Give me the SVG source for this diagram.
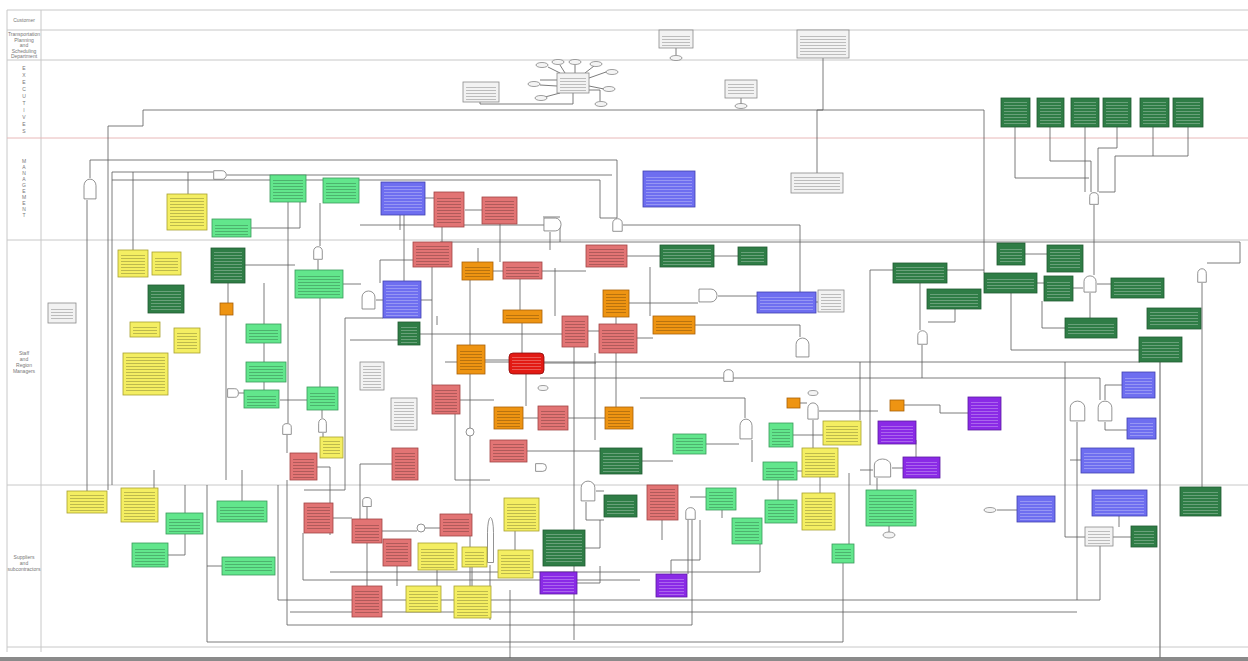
<svg xmlns="http://www.w3.org/2000/svg" xmlns:xlink="http://www.w3.org/1999/xlink" width="1248" height="661" viewBox="0 0 1248 661">
<style>
.lane{stroke:#c8c8c8;stroke-width:1;fill:none}
.lane.r{stroke:#e8b8b8}
.lbl{font-family:"Liberation Sans",Arial,sans-serif;font-size:5px;fill:#777;text-anchor:middle}
.g rect.o{fill:#f2f2f2;stroke:#8a8a8a;stroke-width:.8}
.dg rect.o{fill:#2f7d46;stroke:#1e5a30;stroke-width:.8}
.lg rect.o{fill:#62e68c;stroke:#3a9a5a;stroke-width:.8}
.y rect.o{fill:#f4ee62;stroke:#a8a030;stroke-width:.8}
.r rect.o{fill:#e27474;stroke:#a04444;stroke-width:.8}
.br rect.o{fill:#e21a14;stroke:#8a0a0a;stroke-width:.8}
.or rect.o{fill:#ee9412;stroke:#a86008;stroke-width:.8}
.b rect.o{fill:#6e6ef0;stroke:#4040b0;stroke-width:.8}
.p rect.o{fill:#8a2ae6;stroke:#5a1aa0;stroke-width:.8}
rect.t{fill:url(#tx)}
.dg rect.t,.b rect.t,.p rect.t,.br rect.t{fill:url(#txl)}
.gate{fill:#fff;stroke:#777;stroke-width:.8}
.ev{fill:#f4f4f4;stroke:#777;stroke-width:.7}
#connectors path{fill:none;stroke:#5a5a5a;stroke-width:.8}
</style>
<defs>
<pattern id="tx" patternUnits="userSpaceOnUse" width="4" height="3"><rect x="0" y="0" width="4" height=".8" fill="#000" fill-opacity=".28"/></pattern>
<pattern id="txl" patternUnits="userSpaceOnUse" width="4" height="3"><rect x="0" y="0" width="4" height=".8" fill="#fff" fill-opacity=".35"/></pattern>
<symbol id="gv" viewBox="0 0 14 20" preserveAspectRatio="none"><path d="M1,19 V7 A6,6 0 0 1 13,7 V19 Z" class="gate" vector-effect="non-scaling-stroke"/></symbol>
<symbol id="gh" viewBox="0 0 20 14" preserveAspectRatio="none"><path d="M1,1 H13 A6,6 0 0 1 13,13 H1 Z" class="gate" vector-effect="non-scaling-stroke"/></symbol>
</defs>
<rect width="1248" height="661" fill="#fff"/>

<!-- swimlanes -->
<g id="lanes">
<path class="lane" d="M7,10 H1248 M7,30 H1248 M7,60 H1248 M7,240 H1248 M7,485 H1248 M7,647 H1248 M7,10 V652 M41,10 V652"/>
<path class="lane r" d="M7,138 H1248"/>
<rect x="0" y="657" width="1248" height="4" fill="#8a8a8a"/>
<text class="lbl" x="24" y="22">Customer</text>
<text class="lbl" x="24" y="36"><tspan x="24">Transportation</tspan><tspan x="24" dy="5.5">Planning</tspan><tspan x="24" dy="5.5">and</tspan><tspan x="24" dy="5.5">Scheduling</tspan><tspan x="24" dy="5.5">Department</tspan></text>
<text class="lbl" x="24" y="70"><tspan x="24">E</tspan><tspan x="24" dy="7">X</tspan><tspan x="24" dy="7">E</tspan><tspan x="24" dy="7">C</tspan><tspan x="24" dy="7">U</tspan><tspan x="24" dy="7">T</tspan><tspan x="24" dy="7">I</tspan><tspan x="24" dy="7">V</tspan><tspan x="24" dy="7">E</tspan><tspan x="24" dy="7">S</tspan></text>
<text class="lbl" x="24" y="163"><tspan x="24">M</tspan><tspan x="24" dy="6">A</tspan><tspan x="24" dy="6">N</tspan><tspan x="24" dy="6">A</tspan><tspan x="24" dy="6">G</tspan><tspan x="24" dy="6">E</tspan><tspan x="24" dy="6">M</tspan><tspan x="24" dy="6">E</tspan><tspan x="24" dy="6">N</tspan><tspan x="24" dy="6">T</tspan></text>
<text class="lbl" x="24" y="355"><tspan x="24">Staff</tspan><tspan x="24" dy="6">and</tspan><tspan x="24" dy="6">Region</tspan><tspan x="24" dy="6">Managers</tspan></text>
<text class="lbl" x="24" y="559"><tspan x="24">Suppliers</tspan><tspan x="24" dy="6">and</tspan><tspan x="24" dy="6">subcontractors</tspan></text>
</g>

<!-- connectors -->
<g id="connectors">
<path d="M823,58 V110 H817 V173"/>
<path d="M676,48 V55"/>
<path d="M741,98 V104"/>
<path d="M480,102 V104 H573 V93"/>
<path d="M557,80 H540 M560,73 L548,67 M565,73 L560,65 M575,73 V65 M585,73 L594,66 M589,78 L606,72 M589,86 L604,89 M589,90 H600 V101 M560,93 L545,97 M557,86 L540,85"/>
<path d="M108,490 V126 H143 V110 H984 V273"/>
<path d="M90,178 V160 H617 V218"/>
<path d="M87,200 V491"/>
<path d="M112,485 V172 H213"/>
<path d="M227,175 H612"/>
<path d="M112,180 H600 V218 H617"/>
<path d="M133,172 V250"/>
<path d="M188,172 V194"/>
<path d="M1015,127 V178 H1089"/>
<path d="M1050,127 V161 H1091 V192"/>
<path d="M1085,127 V192"/>
<path d="M1117,127 V148 H1098 V192"/>
<path d="M1153,127 V156 H1115 V192 H1099"/>
<path d="M1188,127 V156 H1153"/>
<path d="M1094,205 V275"/>
<path d="M440,242 H1240 V263 H1207"/>
<path d="M1202,283 V487"/>
<path d="M1090,293 V318 M1073,288 H1083 M1097,284 H1111"/>
<path d="M1024,254 H1047 M1037,283 H1044 M947,270 H984 M920,283 V330 M955,309 V322 H928 M922,345 V378"/>
<path d="M1011,293 V350 H1139"/>
<path d="M1042,301 V328 H1065"/>
<path d="M870,270 H893 M870,270 V485"/>
<path d="M860,362 H1140 M860,362 V420"/>
<path d="M540,378 H1100 V400"/>
<path d="M445,362 H860"/>
<path d="M640,398 H745"/>
<path d="M1077,422 V600 M1105,422 V430 H1127 M1105,400 V385 H1122 M1070,460 H1081"/>
<path d="M1160,362 V658" style="stroke:#777;stroke-width:1.2"/>
<path d="M278,485 V600 H1100 V546"/>
<path d="M207,485 V642 H843 V545"/>
<path d="M287,480 V625 H692 V520"/>
<path d="M185,485 V513 M168,555 H185 V534 M154,470 V488 M242,470 V501 M207,566 H222"/>
<path d="M432,267 V385 M470,280 V428 M478,248 V262 M520,279 V310 M522,323 V353 M526,374 V406 M555,268 V316 M574,347 V640 M595,353 V440 M616,317 V407 M650,267 V316 M470,436 V612 M455,414 V480 H490 M442,248 V227 M500,224 V262 M404,215 V281 M320,203 V246 M318,260 V270 M320,298 V387 M322,410 V418 M323,433 V437 M288,202 V423 M287,435 V453 M264,283 V324 M264,343 V362 M264,382 V390 M228,283 V303 M226,315 V480 M239,393 H244 M280,400 H307"/>
<path d="M245,265 H295 M343,284 H361 M376,300 H383 M421,300 H432 M425,198 H434 M465,210 H482 M493,271 H503 M542,271 H586 M627,256 H660 M714,256 H738 M629,303 H698 M718,296 H757 M816,302 H818 M695,325 H800 V337 M637,338 H653 M588,331 H599 M544,363 H596 M485,360 H509 M460,400 H494 M523,418 H538 M568,418 H605 M527,451 H600 M642,461 H673 M706,444 H739 M793,435 H823 M797,471 H802 M752,440 V462 M745,398 V418 M800,403 H807 M819,411 H878 M904,405 H940 V413 H968 M916,440 V457 M892,468 H903 M860,470 H873 M877,478 V490 M813,420 V448 M820,477 V493 M889,526 V532 M997,510 H1017 M1119,516 V527 M1113,537 H1131 M1085,537 H1065 V362"/>
<path d="M586,502 V520 H604 M596,491 H604 M662,520 V540 M688,520 V574 M690,497 H706 M722,510 V518 M778,480 V500 M849,545 V473"/>
<path d="M333,518 H352 M382,531 H417 M425,528 H440 M367,507 V519 M367,543 V586 M397,566 V586 M437,570 V586 M472,567 V586 M515,531 V550 M490,565 V620 M585,548 H600 V520 M577,583 H600 V566 M671,574 V560 H700 V520 M317,467 H330 V535 M392,464 H360 V519 M510,590 V658"/>
<path d="M303,533 V580 H640 M330,572 H760 V544 M290,612 H1077 M380,260 H413 M380,260 V283"/>
<path d="M360,225 H560 M560,225 V242 M400,230 V182 M250,228 H300 V175"/>
<path d="M345,318 H383 M345,318 V490 H304 M350,340 H398 M420,334 H562 M437,316 V325"/>
<path d="M560,217 H543 M550,232 V250 M623,225 H800 V292"/>
</g>

<!-- gates and events -->
<g id="gates">
<use href="#gv" x="83" y="178" width="14" height="22"/>
<use href="#gv" x="313" y="246" width="10" height="14"/>
<use href="#gv" x="361" y="290" width="15" height="20"/>
<use href="#gv" x="612" y="218" width="11" height="14"/>
<use href="#gv" x="795" y="337" width="15" height="21"/>
<use href="#gv" x="723" y="369" width="11" height="13"/>
<use href="#gv" x="739" y="418" width="14" height="22"/>
<use href="#gv" x="807" y="402" width="12" height="18"/>
<use href="#gv" x="282" y="423" width="10" height="12"/>
<use href="#gv" x="318" y="418" width="9" height="15"/>
<use href="#gv" x="917" y="330" width="11" height="15"/>
<use href="#gv" x="1083" y="275" width="14" height="18"/>
<use href="#gv" x="1197" y="268" width="10" height="15"/>
<use href="#gv" x="1089" y="192" width="10" height="13"/>
<use href="#gv" x="1069" y="400" width="17" height="22"/>
<use href="#gv" x="1097" y="400" width="16" height="22"/>
<use href="#gv" x="873" y="458" width="19" height="20"/>
<use href="#gv" x="580" y="480" width="16" height="22"/>
<use href="#gv" x="685" y="507" width="11" height="13"/>
<use href="#gv" x="362" y="497" width="10" height="10"/>
<use href="#gv" x="487" y="515" width="7" height="50"/>
<use href="#gh" x="213" y="170" width="14" height="10"/>
<use href="#gh" x="543" y="217" width="19" height="15"/>
<use href="#gh" x="698" y="288" width="20" height="15"/>
<use href="#gh" x="227" y="388" width="12" height="10"/>
<use href="#gh" x="535" y="463" width="12" height="9"/>
<circle class="gate" cx="470" cy="432" r="4"/>
<circle class="gate" cx="421" cy="528" r="4"/>
<ellipse class="ev" cx="676" cy="58" rx="6" ry="2.5"/>
<ellipse class="ev" cx="542" cy="65" rx="6" ry="2.5"/>
<ellipse class="ev" cx="558" cy="62" rx="6" ry="2.5"/>
<ellipse class="ev" cx="575" cy="62" rx="6" ry="2.5"/>
<ellipse class="ev" cx="596" cy="64" rx="6" ry="2.5"/>
<ellipse class="ev" cx="612" cy="72" rx="6" ry="2.5"/>
<ellipse class="ev" cx="534" cy="84" rx="6" ry="2.5"/>
<ellipse class="ev" cx="541" cy="98" rx="6" ry="2.5"/>
<ellipse class="ev" cx="609" cy="89" rx="6" ry="2.5"/>
<ellipse class="ev" cx="601" cy="104" rx="6" ry="2.5"/>
<ellipse class="ev" cx="741" cy="106" rx="6" ry="2.5"/>
<ellipse class="ev" cx="543" cy="388" rx="5" ry="2.5"/>
<ellipse class="ev" cx="813" cy="393" rx="5" ry="2.5"/>
<ellipse class="ev" cx="889" cy="535" rx="6" ry="3"/>
<ellipse class="ev" cx="990" cy="510" rx="6" ry="2.5"/>
</g>

<!-- gray nodes -->
<g id="g1" class="g"><rect class="o" x="659" y="30" width="34" height="18"/><rect class="t" x="662" y="34" width="28" height="12"/></g>
<g id="g2" class="g"><rect class="o" x="797" y="30" width="52" height="28"/><rect class="t" x="800" y="34" width="46" height="22"/></g>
<g id="g3" class="g"><rect class="o" x="463" y="82" width="36" height="20"/><rect class="t" x="466" y="86" width="30" height="14"/></g>
<g id="g4" class="g"><rect class="o" x="557" y="73" width="32" height="20"/><rect class="t" x="560" y="77" width="26" height="14"/></g>
<g id="g5" class="g"><rect class="o" x="725" y="80" width="32" height="18"/><rect class="t" x="728" y="84" width="26" height="12"/></g>
<g id="g6" class="g"><rect class="o" x="791" y="173" width="52" height="20"/><rect class="t" x="794" y="177" width="46" height="14"/></g>
<g id="g7" class="g"><rect class="o" x="48" y="303" width="28" height="20"/><rect class="t" x="51" y="307" width="22" height="14"/></g>
<g id="g8" class="g"><rect class="o" x="360" y="362" width="24" height="28"/><rect class="t" x="363" y="366" width="18" height="22"/></g>
<g id="g9" class="g"><rect class="o" x="391" y="398" width="26" height="32"/><rect class="t" x="394" y="402" width="20" height="26"/></g>
<g id="g10" class="g"><rect class="o" x="818" y="290" width="26" height="22"/><rect class="t" x="821" y="294" width="20" height="16"/></g>
<g id="g11" class="g"><rect class="o" x="1085" y="527" width="28" height="19"/><rect class="t" x="1088" y="531" width="22" height="13"/></g>

<!-- dark green nodes -->
<g id="dg1" class="dg"><rect class="o" x="1001" y="98" width="29" height="29"/><rect class="t" x="1004" y="102" width="23" height="23"/></g>
<g id="dg2" class="dg"><rect class="o" x="1037" y="98" width="27" height="29"/><rect class="t" x="1040" y="102" width="21" height="23"/></g>
<g id="dg3" class="dg"><rect class="o" x="1071" y="98" width="28" height="29"/><rect class="t" x="1074" y="102" width="22" height="23"/></g>
<g id="dg4" class="dg"><rect class="o" x="1103" y="98" width="28" height="29"/><rect class="t" x="1106" y="102" width="22" height="23"/></g>
<g id="dg5" class="dg"><rect class="o" x="1140" y="98" width="29" height="29"/><rect class="t" x="1143" y="102" width="23" height="23"/></g>
<g id="dg6" class="dg"><rect class="o" x="1173" y="98" width="30" height="29"/><rect class="t" x="1176" y="102" width="24" height="23"/></g>
<g id="dg7" class="dg"><rect class="o" x="211" y="248" width="34" height="35"/><rect class="t" x="214" y="252" width="28" height="29"/></g>
<g id="dg8" class="dg"><rect class="o" x="148" y="285" width="36" height="28"/><rect class="t" x="151" y="289" width="30" height="22"/></g>
<g id="dg9" class="dg"><rect class="o" x="398" y="322" width="22" height="23"/><rect class="t" x="401" y="326" width="16" height="17"/></g>
<g id="dg10" class="dg"><rect class="o" x="660" y="245" width="54" height="22"/><rect class="t" x="663" y="249" width="48" height="16"/></g>
<g id="dg11" class="dg"><rect class="o" x="738" y="247" width="29" height="18"/><rect class="t" x="741" y="251" width="23" height="12"/></g>
<g id="dg12" class="dg"><rect class="o" x="893" y="263" width="54" height="20"/><rect class="t" x="896" y="267" width="48" height="14"/></g>
<g id="dg13" class="dg"><rect class="o" x="927" y="289" width="54" height="20"/><rect class="t" x="930" y="293" width="48" height="14"/></g>
<g id="dg14" class="dg"><rect class="o" x="997" y="243" width="28" height="22"/><rect class="t" x="1000" y="247" width="22" height="16"/></g>
<g id="dg15" class="dg"><rect class="o" x="1047" y="245" width="36" height="27"/><rect class="t" x="1050" y="249" width="30" height="21"/></g>
<g id="dg16" class="dg"><rect class="o" x="984" y="273" width="53" height="20"/><rect class="t" x="987" y="277" width="47" height="14"/></g>
<g id="dg17" class="dg"><rect class="o" x="1044" y="276" width="29" height="25"/><rect class="t" x="1047" y="280" width="23" height="19"/></g>
<g id="dg18" class="dg"><rect class="o" x="1111" y="278" width="53" height="20"/><rect class="t" x="1114" y="282" width="47" height="14"/></g>
<g id="dg19" class="dg"><rect class="o" x="1147" y="308" width="54" height="21"/><rect class="t" x="1150" y="312" width="48" height="15"/></g>
<g id="dg20" class="dg"><rect class="o" x="1065" y="318" width="52" height="20"/><rect class="t" x="1068" y="322" width="46" height="14"/></g>
<g id="dg21" class="dg"><rect class="o" x="1139" y="337" width="43" height="25"/><rect class="t" x="1142" y="341" width="37" height="19"/></g>
<g id="dg22" class="dg"><rect class="o" x="600" y="448" width="42" height="26"/><rect class="t" x="603" y="452" width="36" height="20"/></g>
<g id="dg23" class="dg"><rect class="o" x="543" y="530" width="42" height="36"/><rect class="t" x="546" y="534" width="36" height="30"/></g>
<g id="dg24" class="dg"><rect class="o" x="604" y="495" width="33" height="22"/><rect class="t" x="607" y="499" width="27" height="16"/></g>
<g id="dg25" class="dg"><rect class="o" x="1131" y="526" width="26" height="21"/><rect class="t" x="1134" y="530" width="20" height="15"/></g>
<g id="dg26" class="dg"><rect class="o" x="1180" y="487" width="41" height="29"/><rect class="t" x="1183" y="491" width="35" height="23"/></g>

<!-- light green nodes -->
<g id="lg1" class="lg"><rect class="o" x="212" y="219" width="39" height="18"/><rect class="t" x="215" y="223" width="33" height="12"/></g>
<g id="lg2" class="lg"><rect class="o" x="270" y="175" width="36" height="27"/><rect class="t" x="273" y="179" width="30" height="21"/></g>
<g id="lg3" class="lg"><rect class="o" x="323" y="178" width="36" height="25"/><rect class="t" x="326" y="182" width="30" height="19"/></g>
<g id="lg4" class="lg"><rect class="o" x="295" y="270" width="48" height="28"/><rect class="t" x="298" y="274" width="42" height="22"/></g>
<g id="lg5" class="lg"><rect class="o" x="246" y="324" width="35" height="19"/><rect class="t" x="249" y="328" width="29" height="13"/></g>
<g id="lg6" class="lg"><rect class="o" x="246" y="362" width="40" height="20"/><rect class="t" x="249" y="366" width="34" height="14"/></g>
<g id="lg7" class="lg"><rect class="o" x="244" y="390" width="35" height="18"/><rect class="t" x="247" y="394" width="29" height="12"/></g>
<g id="lg8" class="lg"><rect class="o" x="307" y="387" width="31" height="23"/><rect class="t" x="310" y="391" width="25" height="17"/></g>
<g id="lg9" class="lg"><rect class="o" x="673" y="434" width="33" height="20"/><rect class="t" x="676" y="438" width="27" height="14"/></g>
<g id="lg10" class="lg"><rect class="o" x="769" y="423" width="24" height="24"/><rect class="t" x="772" y="427" width="18" height="18"/></g>
<g id="lg11" class="lg"><rect class="o" x="763" y="462" width="34" height="18"/><rect class="t" x="766" y="466" width="28" height="12"/></g>
<g id="lg12" class="lg"><rect class="o" x="765" y="500" width="32" height="23"/><rect class="t" x="768" y="504" width="26" height="17"/></g>
<g id="lg13" class="lg"><rect class="o" x="706" y="488" width="30" height="22"/><rect class="t" x="709" y="492" width="24" height="16"/></g>
<g id="lg14" class="lg"><rect class="o" x="732" y="518" width="30" height="26"/><rect class="t" x="735" y="522" width="24" height="20"/></g>
<g id="lg15" class="lg"><rect class="o" x="166" y="513" width="37" height="21"/><rect class="t" x="169" y="517" width="31" height="15"/></g>
<g id="lg16" class="lg"><rect class="o" x="132" y="543" width="36" height="24"/><rect class="t" x="135" y="547" width="30" height="18"/></g>
<g id="lg17" class="lg"><rect class="o" x="217" y="501" width="50" height="21"/><rect class="t" x="220" y="505" width="44" height="15"/></g>
<g id="lg18" class="lg"><rect class="o" x="222" y="557" width="53" height="18"/><rect class="t" x="225" y="561" width="47" height="12"/></g>
<g id="lg19" class="lg"><rect class="o" x="866" y="490" width="50" height="36"/><rect class="t" x="869" y="494" width="44" height="30"/></g>
<g id="lg20" class="lg"><rect class="o" x="832" y="544" width="22" height="19"/><rect class="t" x="835" y="548" width="16" height="13"/></g>

<!-- yellow nodes -->
<g id="y1" class="y"><rect class="o" x="167" y="194" width="40" height="36"/><rect class="t" x="170" y="198" width="34" height="30"/></g>
<g id="y2" class="y"><rect class="o" x="118" y="250" width="30" height="27"/><rect class="t" x="121" y="254" width="24" height="21"/></g>
<g id="y3" class="y"><rect class="o" x="152" y="252" width="29" height="23"/><rect class="t" x="155" y="256" width="23" height="17"/></g>
<g id="y4" class="y"><rect class="o" x="130" y="322" width="30" height="15"/><rect class="t" x="133" y="326" width="24" height="9"/></g>
<g id="y5" class="y"><rect class="o" x="174" y="328" width="26" height="25"/><rect class="t" x="177" y="332" width="20" height="19"/></g>
<g id="y6" class="y"><rect class="o" x="123" y="353" width="45" height="42"/><rect class="t" x="126" y="357" width="39" height="36"/></g>
<g id="y7" class="y"><rect class="o" x="320" y="437" width="23" height="21"/><rect class="t" x="323" y="441" width="17" height="15"/></g>
<g id="y8" class="y"><rect class="o" x="67" y="491" width="40" height="22"/><rect class="t" x="70" y="495" width="34" height="16"/></g>
<g id="y9" class="y"><rect class="o" x="121" y="488" width="37" height="34"/><rect class="t" x="124" y="492" width="31" height="28"/></g>
<g id="y10" class="y"><rect class="o" x="823" y="421" width="38" height="24"/><rect class="t" x="826" y="425" width="32" height="18"/></g>
<g id="y11" class="y"><rect class="o" x="802" y="448" width="36" height="29"/><rect class="t" x="805" y="452" width="30" height="23"/></g>
<g id="y12" class="y"><rect class="o" x="802" y="493" width="33" height="37"/><rect class="t" x="805" y="497" width="27" height="31"/></g>
<g id="y13" class="y"><rect class="o" x="504" y="498" width="35" height="33"/><rect class="t" x="507" y="502" width="29" height="27"/></g>
<g id="y14" class="y"><rect class="o" x="418" y="543" width="39" height="27"/><rect class="t" x="421" y="547" width="33" height="21"/></g>
<g id="y15" class="y"><rect class="o" x="462" y="547" width="25" height="20"/><rect class="t" x="465" y="551" width="19" height="14"/></g>
<g id="y16" class="y"><rect class="o" x="498" y="550" width="35" height="28"/><rect class="t" x="501" y="554" width="29" height="22"/></g>
<g id="y17" class="y"><rect class="o" x="406" y="586" width="35" height="26"/><rect class="t" x="409" y="590" width="29" height="20"/></g>
<g id="y18" class="y"><rect class="o" x="454" y="586" width="37" height="32"/><rect class="t" x="457" y="590" width="31" height="26"/></g>

<!-- red nodes -->
<g id="r1" class="r"><rect class="o" x="434" y="192" width="30" height="35"/><rect class="t" x="437" y="196" width="24" height="29"/></g>
<g id="r2" class="r"><rect class="o" x="482" y="197" width="35" height="27"/><rect class="t" x="485" y="201" width="29" height="21"/></g>
<g id="r3" class="r"><rect class="o" x="413" y="242" width="39" height="25"/><rect class="t" x="416" y="246" width="33" height="19"/></g>
<g id="r4" class="r"><rect class="o" x="503" y="262" width="39" height="17"/><rect class="t" x="506" y="266" width="33" height="11"/></g>
<g id="r5" class="r"><rect class="o" x="586" y="245" width="41" height="22"/><rect class="t" x="589" y="249" width="35" height="16"/></g>
<g id="r6" class="r"><rect class="o" x="562" y="316" width="26" height="31"/><rect class="t" x="565" y="320" width="20" height="25"/></g>
<g id="r7" class="r"><rect class="o" x="599" y="324" width="38" height="29"/><rect class="t" x="602" y="328" width="32" height="23"/></g>
<g id="r8" class="r"><rect class="o" x="432" y="385" width="28" height="29"/><rect class="t" x="435" y="389" width="22" height="23"/></g>
<g id="r9" class="r"><rect class="o" x="538" y="406" width="30" height="24"/><rect class="t" x="541" y="410" width="24" height="18"/></g>
<g id="r10" class="r"><rect class="o" x="490" y="440" width="37" height="22"/><rect class="t" x="493" y="444" width="31" height="16"/></g>
<g id="r11" class="r"><rect class="o" x="290" y="453" width="27" height="27"/><rect class="t" x="293" y="457" width="21" height="21"/></g>
<g id="r12" class="r"><rect class="o" x="392" y="448" width="26" height="32"/><rect class="t" x="395" y="452" width="20" height="26"/></g>
<g id="r13" class="r"><rect class="o" x="304" y="503" width="29" height="30"/><rect class="t" x="307" y="507" width="23" height="24"/></g>
<g id="r14" class="r"><rect class="o" x="352" y="519" width="30" height="24"/><rect class="t" x="355" y="523" width="24" height="18"/></g>
<g id="r15" class="r"><rect class="o" x="383" y="539" width="28" height="27"/><rect class="t" x="386" y="543" width="22" height="21"/></g>
<g id="r16" class="r"><rect class="o" x="352" y="586" width="30" height="31"/><rect class="t" x="355" y="590" width="24" height="25"/></g>
<g id="r17" class="r"><rect class="o" x="440" y="514" width="32" height="22"/><rect class="t" x="443" y="518" width="26" height="16"/></g>
<g id="r18" class="r"><rect class="o" x="647" y="485" width="31" height="35"/><rect class="t" x="650" y="489" width="25" height="29"/></g>
<g id="br1" class="br"><rect class="o" x="509" y="353" width="35" height="21" rx="4"/><rect class="t" x="512" y="357" width="29" height="15"/></g>

<!-- orange nodes -->
<g id="o1" class="or"><rect class="o" x="462" y="262" width="31" height="18"/><rect class="t" x="465" y="266" width="25" height="12"/></g>
<g id="o2" class="or"><rect class="o" x="603" y="290" width="26" height="27"/><rect class="t" x="606" y="294" width="20" height="21"/></g>
<g id="o3" class="or"><rect class="o" x="503" y="310" width="39" height="13"/><rect class="t" x="506" y="313" width="33" height="8"/></g>
<g id="o4" class="or"><rect class="o" x="653" y="316" width="42" height="18"/><rect class="t" x="656" y="320" width="36" height="12"/></g>
<g id="o5" class="or"><rect class="o" x="457" y="345" width="28" height="29"/><rect class="t" x="460" y="349" width="22" height="23"/></g>
<g id="o6" class="or"><rect class="o" x="494" y="407" width="29" height="22"/><rect class="t" x="497" y="411" width="23" height="16"/></g>
<g id="o7" class="or"><rect class="o" x="605" y="407" width="28" height="22"/><rect class="t" x="608" y="411" width="22" height="16"/></g>
<g id="o8" class="or"><rect class="o" x="220" y="303" width="13" height="12"/></g>
<g id="o9" class="or"><rect class="o" x="787" y="398" width="13" height="10"/></g>
<g id="o10" class="or"><rect class="o" x="890" y="400" width="14" height="11"/></g>

<!-- blue nodes -->
<g id="b1" class="b"><rect class="o" x="381" y="182" width="44" height="33"/><rect class="t" x="384" y="186" width="38" height="27"/></g>
<g id="b2" class="b"><rect class="o" x="643" y="171" width="52" height="36"/><rect class="t" x="646" y="175" width="46" height="30"/></g>
<g id="b3" class="b"><rect class="o" x="383" y="281" width="38" height="37"/><rect class="t" x="386" y="285" width="32" height="31"/></g>
<g id="b4" class="b"><rect class="o" x="757" y="292" width="59" height="21"/><rect class="t" x="760" y="296" width="53" height="15"/></g>
<g id="b5" class="b"><rect class="o" x="1122" y="372" width="33" height="26"/><rect class="t" x="1125" y="376" width="27" height="20"/></g>
<g id="b6" class="b"><rect class="o" x="1127" y="418" width="29" height="21"/><rect class="t" x="1130" y="422" width="23" height="15"/></g>
<g id="b7" class="b"><rect class="o" x="1081" y="448" width="53" height="25"/><rect class="t" x="1084" y="452" width="47" height="19"/></g>
<g id="b8" class="b"><rect class="o" x="1017" y="496" width="38" height="26"/><rect class="t" x="1020" y="500" width="32" height="20"/></g>
<g id="b9" class="b"><rect class="o" x="1092" y="490" width="55" height="26"/><rect class="t" x="1095" y="494" width="49" height="20"/></g>

<!-- purple nodes -->
<g id="p1" class="p"><rect class="o" x="968" y="397" width="33" height="33"/><rect class="t" x="971" y="401" width="27" height="27"/></g>
<g id="p2" class="p"><rect class="o" x="878" y="421" width="38" height="23"/><rect class="t" x="881" y="425" width="32" height="17"/></g>
<g id="p3" class="p"><rect class="o" x="903" y="457" width="37" height="21"/><rect class="t" x="906" y="461" width="31" height="15"/></g>
<g id="p4" class="p"><rect class="o" x="540" y="572" width="37" height="22"/><rect class="t" x="543" y="576" width="31" height="16"/></g>
<g id="p5" class="p"><rect class="o" x="656" y="574" width="31" height="23"/><rect class="t" x="659" y="578" width="25" height="17"/></g>
</svg>
